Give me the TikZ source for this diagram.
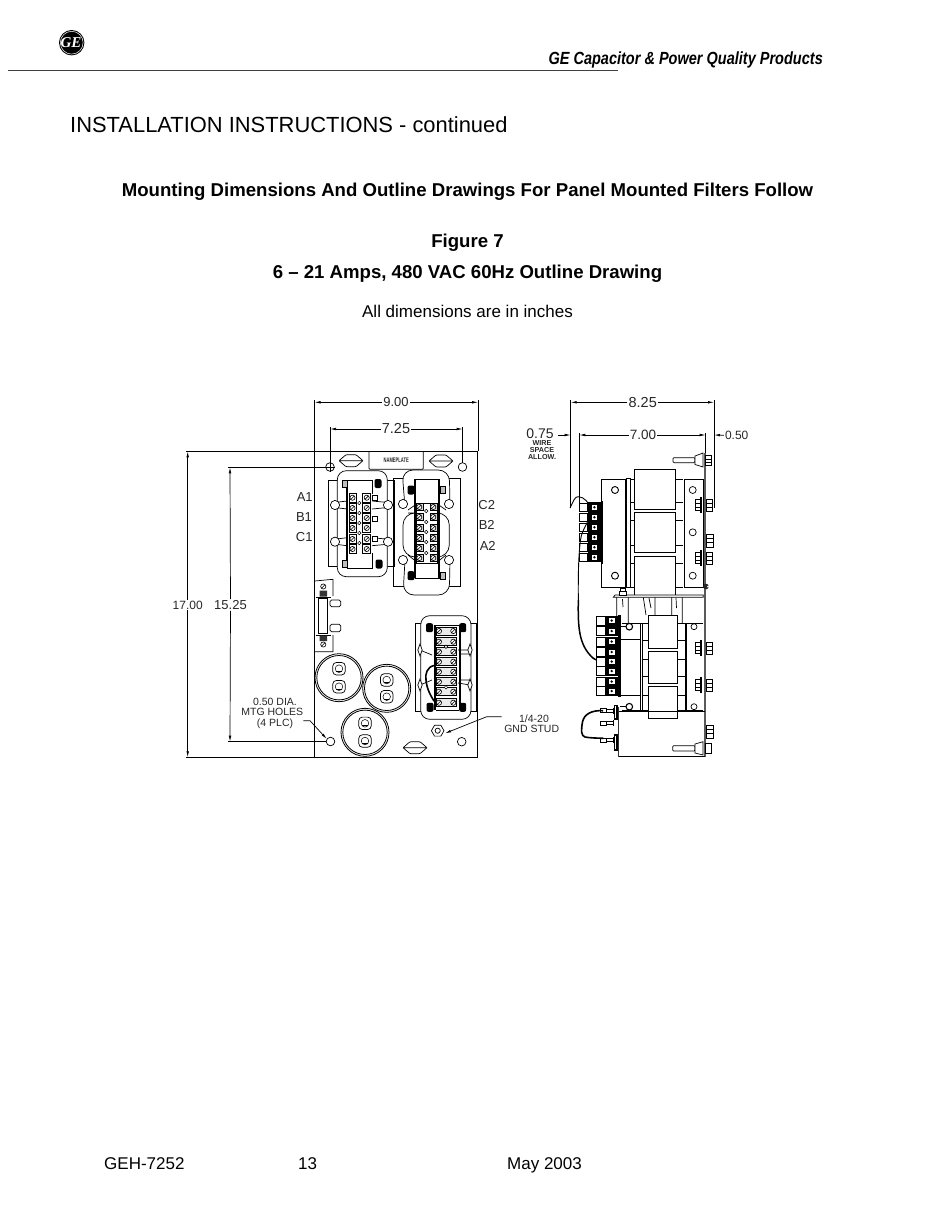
\documentclass[tikz,border=0pt]{standalone}
\usepackage{fontspec}
\setmainfont{Liberation Sans}
\newfontfamily\logofont{Liberation Serif}
\usetikzlibrary{arrows.meta}
\tikzset{
  ln/.style={line width=0.7pt,black},
  thin ln/.style={line width=0.5pt,black},
  heavy/.style={line width=1.5pt,black},
  dimline/.style={line width=0.7pt,black,-{Latex[length=6pt,width=2.6pt]}},
  dimtxt/.style={font=\fontsize{13}{13}\selectfont,inner sep=1pt,text=black!85},
  smalltxt/.style={font=\fontsize{10.5}{10.5}\selectfont,inner sep=0pt,text=black!85},
  tinytxt/.style={font=\bfseries\fontsize{6.6}{7}\selectfont,inner sep=0pt,text=black!85},
  page/.style={inner sep=0pt,text=black}
}
\newcommand\myscrew[2]{\draw[line width=.6pt,fill=white,shift={(#1,#2)}] (0,0) circle (2.6) (-1.7,1.7)--(1.7,-1.7);}
\newcommand\mydot[2]{\draw[thin ln,fill=white] (#1,#2) circle (1.7);}
\newcommand\myknock[2]{\draw[ln,fill=white] (#1,#2) circle (4.6);}
\newcommand\mylens[2]{\draw[ln,fill=white,rounded corners=1pt,shift={(#1,#2)}] (-12,0)--(-5,-6)--(5,-6)--(12,0)--(5,6)--(-5,6)--cycle (-12,0)--(12,0);}
\newcommand\myhole[2]{\draw[ln,fill=white] (#1,#2) circle (4.3);}
\newcommand\myblob[2]{\fill[black,rounded corners=2pt,shift={(#1,#2)}] (-3.5,-4.5) rectangle (3.5,4.5);}
\newcommand\myhatch[2]{\draw[ln,fill=black!25,shift={(#1,#2)}] (-2.6,-3.4) rectangle (2.6,3.4);}
\newcommand\mycap[4]{% cx cy t1y t2y
  \draw[line width=.8pt] (#1,#2) circle (24) circle (22.2);
  \foreach \ty in {#3,#4}{\draw[ln,rounded corners=3.5pt] (#1-6.2,\ty-6.2) rectangle (#1+6.2,\ty+6.2);\draw[thin ln] (#1,\ty) circle (3.8);\draw[thin ln] (#1-2.6,\ty+2.4)--(#1+2.6,\ty+2.4);}
}
\newcommand\mynut[2]{% side view washer + two nuts on the panel
  \draw[ln,fill=white,shift={(#1,#2)}] (-10,-5.5) rectangle (-5,5.5) (-10,-2) -- (-5,-2) (-10,2)--(-5,2);
  \fill[black,shift={(#1,#2)}] (-5,-8) rectangle (-2.8,8);
  \draw[ln,fill=white,shift={(#1,#2)}] (1,-6) rectangle (7,6) (1,-2)--(7,-2) (1,2)--(7,2);
}
\newcommand\mytermrow[2]{% x of block left, y centre
  \draw[thin ln,fill=white] (#1-8.5,#2-4.4) rectangle (#1,#2+4.4);
  \fill[black] (#1,#2-5) rectangle (#1+13,#2+5);
  \draw[thin ln,fill=white] (#1+3.5,#2-2.8) rectangle (#1+10,#2+2.8);
  \fill[black] (#1+6.7,#2) circle (1.3);
}
\begin{document}
\begin{tikzpicture}[x=1pt,y=-1pt]
\useasboundingbox (0,0) rectangle (950,1229);
% ---------- page furniture
\fill[black] (71.7,42.7) circle (12.7);
\draw[white,line width=.5pt] (71.7,42.7) circle (11.4);
\node[page,text=white] (logo) at (71,42.7) {\logofont\itshape\bfseries\fontsize{15}{15}\selectfont GE};
\draw[line width=.8pt,black!75] (8,70)--(618,70);
\node[page,anchor=base east,xscale=.825,font=\bfseries\itshape\fontsize{17.6}{18}\selectfont] (hdr) at (823,64.5) {GE Capacitor \& Power Quality Products};
\node[page,anchor=base west,font=\fontsize{21.9}{22}\selectfont] (inst) at (70,132) {INSTALLATION INSTRUCTIONS - continued};
\node[page,anchor=base,font=\bfseries\fontsize{18.6}{19}\selectfont] (t1) at (467.5,196.5) {Mounting Dimensions And Outline Drawings For Panel Mounted Filters Follow};
\node[page,anchor=base,font=\bfseries\fontsize{18.6}{19}\selectfont] (t2) at (467.5,247) {Figure 7};
\node[page,anchor=base,font=\bfseries\fontsize{18.6}{19}\selectfont] (t3) at (467.5,278) {6 – 21 Amps, 480 VAC 60Hz Outline Drawing};
\node[page,anchor=base,font=\fontsize{17}{18}\selectfont] (t4) at (467.5,317) {All dimensions are in inches};
\node[page,anchor=base west,font=\fontsize{17}{18}\selectfont] (f1) at (104,1169.5) {GEH-7252};
\node[page,anchor=base west,font=\fontsize{17}{18}\selectfont] (f2) at (298,1169.5) {13};
\node[page,anchor=base west,font=\fontsize{17}{18}\selectfont] (f3) at (507,1169.5) {May 2003};

% ---------- FRONT VIEW: plate
\draw[ln] (314.5,451.3) rectangle (477.7,757.3);
\mylens{351}{460.7}\mylens{441}{461}\mylens{415}{747.7}
\draw[ln,rounded corners=1pt] (369,451.3)--(369,469.3)--(423.3,469.3)--(423.3,451.3);
\node[tinytxt,xscale=.62] (nameplate) at (396.2,460.5) {NAMEPLATE};
\myhole{330}{467}\draw[thin ln] (325.2,467)--(334.8,467) (330,462.2)--(330,471.8);
\myhole{462.5}{467}\myhole{330.5}{741.5}\myhole{461.7}{741.7}

% ---------- left filter (A1 B1 C1)
\draw[ln] (328.7,480) rectangle (394,566.7);
\draw[ln,fill=white,rounded corners=9pt] (337.3,470.7) rectangle (387.3,576.7);
\foreach \y in {505,541.7}{
  \draw[ln] (335,\y-2.5)--(347,\y-4) (335,\y+2.5)--(347,\y+4) (388,\y-2.5)--(372,\y-4) (388,\y+2.5)--(372,\y+4);
  \myknock{335}{\y}\myknock{388}{\y}}
\draw[ln,fill=white] (347,480) -- (373,480) (347,568) -- (373,568);
\fill[black] (345.6,480) rectangle (347.8,568);
\draw[line width=1.1pt] (372.4,480)--(372.4,494) (372.4,553)--(372.4,568);
\foreach \y in {497.7,508,518,528,539,549}{\draw[thin ln] (349.5,\y-4.3) rectangle (356.5,\y+4.3);\draw[thin ln] (362.5,\y-4.3) rectangle (370.5,\y+4.3);\myscrew{352.5}{\y}\myscrew{366.7}{\y}}
\foreach \y in {503,513,523,533,543}{\mydot{359.3}{\y}}
\foreach \y in {498,519,538.5}{\draw[ln,fill=white] (372,\y-2.5) rectangle (377.5,\y+2.5);}
\myhatch{344.5}{484}\myhatch{345}{564}\myblob{378}{483.5}\myblob{379}{564}

% ---------- right filter (C2 B2 A2)
\draw[ln] (393.7,478) rectangle (460,586.7);
\draw[ln,fill=white,rounded corners=11pt] (405,507)--(402,470)--(449.3,470)--(450,507);
\draw[ln,fill=white,rounded corners=11pt] (405,560)--(403,595)--(449.3,595)--(450,560);
\draw[ln,rounded corners=12pt] (408,513)--(403,513)--(403,557)--(449.3,557)--(449.3,513)--(440,513);
\draw[ln] (408,510)--(418,503) (446,510)--(436,503) (408,555)--(418,563) (446,555)--(436,563);
\foreach \p in {(403,504),(449,504),(403,560),(449,560)}{\draw[ln,fill=white] \p circle (4.6);}
\draw[ln,fill=white] (415,479) rectangle (439.3,578);
\fill[black] (414,479) rectangle (416.2,578);
\fill[black] (438,479) rectangle (440.2,578);
\draw[ln] (416.5,503) rectangle (437,563);
\foreach \y in {507,517,528,538,548,558}{\draw[thin ln,fill=black!15] (416.5,\y-3.6) rectangle (423,\y+3.6);\draw[thin ln,fill=black!15] (430,\y-3.6) rectangle (437,\y+3.6);\myscrew{419.3}{\y}\myscrew{433.3}{\y}}
\foreach \y in {511,522,532,542,553}{\mydot{426.2}{\y}}
\myblob{411}{490}\myblob{411}{575.7}\myhatch{442.7}{490}\myhatch{442.7}{575.7}

% ---------- bottom-right filter
\draw[ln] (415,623) rectangle (476.7,711.7);
\draw[ln,fill=white,rounded corners=9pt] (420.7,615.7) rectangle (471,719.3);
\draw[ln] (420,650)--(432,655) (470,650)--(458,650) (420,685)--(432,680) (470,685)--(458,683) (460,654)--(471,654) (460,680)--(471,680);
\foreach \x in {420,470}\foreach \y in {650,685}{\draw[ln,fill=white] (\x-2.2,\y)--(\x,\y-6)--(\x+2.2,\y)--(\x,\y+6)--cycle;}
\fill[black] (434.3,625) rectangle (436,710);
\fill[black] (459,625) rectangle (461,710);
\draw[ln] (436,625)--(459,625) (436,710)--(459,710);
\foreach \y in {631,641.7,651.7,661.7,671.7,681.7,691.7,702.7}{\draw[thin ln,fill=black!8] (436.5,\y-4) rectangle (456.5,\y+4);\myscrew{439}{\y}\myscrew{453.3}{\y}}
\mydot{446}{646.7}\mydot{446}{687.3}
\myblob{429.5}{627.7}\myblob{462.7}{627.7}\myblob{430}{707.3}\myblob{462.7}{707.3}
\draw[line width=1.6pt,line cap=round] (434,665.5) .. controls (427,667) and (425,674) .. (426,680) .. controls (427,690) and (431,696) .. (434,701);

% ---------- suppressor component at plate left
\draw[ln] (314.7,581) -- (333,579.3) -- (333,596) (314.7,651.7)--(333,651.7)--(333,635);
\draw[ln,fill=white] (318.3,598.3) rectangle (327.7,633.3);
\draw[line width=1pt] (318.3,598.3)--(318.3,633.3) (327.7,598.3)--(327.7,633.3) (315.5,597)--(331,597) (315.5,635)--(331,635);
\draw[ln,fill=white,rounded corners=1.5pt] (330,600) rectangle (340.7,606.7) (330,624.3) rectangle (340.7,631.7);
\myscrew{323.3}{586.5}\myscrew{323.3}{644.5}
\fill[black!80] (319.5,590.5) rectangle (327,596.5) (319.5,635.5) rectangle (327,641);

% ---------- capacitors
\mycap{339}{677.7}{668.7}{686.7}
\mycap{386.7}{688.3}{680}{696.7}
\mycap{365}{732.3}{723.3}{741}

% ---------- gnd stud
\draw[ln,fill=white,shift={(437.7,730.7)}] (-6.3,0)--(-3.2,-5.4)--(3.2,-5.4)--(6.3,0)--(3.2,5.4)--(-3.2,5.4)--cycle (0,0) circle (2.6);
\coordinate (studtip) at (445,733.3);
\node[smalltxt] (stud1) at (534,718.3) {1/4-20};
\node[smalltxt] (stud2) at (531.7,728.5) {GND STUD};
\coordinate (studkn) at (486.7,716.7);
\coordinate (studend) at (501.7,716.7);
\draw[dimline] (studend)--(studkn)--(studtip);

% ---------- front view labels
\node[dimtxt] (a1) at (304.7,496.7) {A1};
\node[dimtxt] (b1) at (304,516.7) {B1};
\node[dimtxt] (c1) at (304.3,537.3) {C1};
\node[dimtxt] (c2) at (486.7,505) {C2};
\node[dimtxt] (b2) at (486.7,525) {B2};
\node[dimtxt] (a2) at (487.7,545.7) {A2};
\node[smalltxt] (h1) at (275,702.3) {0.50 DIA.};
\node[smalltxt] (h2) at (272.3,712.3) {MTG HOLES};
\node[smalltxt] (h3) at (275,724) {(4 PLC)};
\coordinate (hs) at (303.3,720.7);\coordinate (hk) at (310,720.7);\coordinate (ht) at (326.8,739);
\draw[dimline] (hs)--(hk)--(ht);

% ---------- front view dimensions
\coordinate (p900l) at (314.5,402.3);\coordinate (p900r) at (478.2,402.3);
\node[dimtxt] (d900) at (396,402.3) {9.00};
\draw[dimline] (d900)--(p900l);\draw[dimline] (d900)--(p900r);
\draw[ln] (314.5,400)--(314.5,451.3) (478.2,400)--(478.2,451.3);
\coordinate (p725l) at (330,429);\coordinate (p725r) at (462.7,429);
\node[dimtxt,font=\fontsize{14.5}{14}\selectfont] (d725) at (396,429) {7.25};
\draw[dimline] (d725)--(p725l);\draw[dimline] (d725)--(p725r);
\draw[ln] (330,427)--(330,462.7) (462.7,427)--(462.7,462.7);
\coordinate (p17t) at (187.7,451.3);\coordinate (p17b) at (187.7,757.3);
\node[dimtxt,font=\fontsize{12}{12}\selectfont] (d17) at (187.7,605) {17.00};
\draw[dimline] (d17)--(p17t);\draw[dimline] (d17)--(p17b);
\draw[ln] (186,451.3)--(314.5,451.3) (186,757.3)--(314.5,757.3);
\coordinate (p15t) at (230,467.3);\coordinate (p15b) at (230,741.7);
\node[dimtxt,font=\fontsize{13}{12}\selectfont] (d15) at (230.5,605) {15.25};
\draw[dimline] (d15)--(p15t);\draw[dimline] (d15)--(p15b);
\draw[ln] (228,467.3)--(325.7,467.3) (228,741.7)--(326.2,741.7);

% ---------- SIDE VIEW: upper filter
\draw[line width=2pt,black!65] (704.5,453)--(704.5,757);
\draw[ln,rounded corners=1pt] (673,457.7) rectangle (695,462.7);
\draw[ln,fill=white] (695,456)--(703,453)--(703,467)--(695,464.5)--cycle;
\draw[ln,fill=white] (705.7,455.7) rectangle (711,465) (705.7,459)--(711,459) (705.7,462)--(711,462);
\draw[ln] (601.7,479) rectangle (625,587.3);
\draw[ln] (626,478) rectangle (630,587.3);
\draw[ln] (630,479)--(634.3,479) (630,502)--(634.3,502) (630,520)--(634.3,520) (630,545)--(634.3,545) (630,563)--(634.3,563) (630,587)--(634.3,587);
\draw[ln] (675.7,479)--(683.3,479) (675.7,502)--(683.3,502) (675.7,520)--(683.3,520) (675.7,545)--(683.3,545) (675.7,563)--(683.3,563) (675.7,587)--(683.3,587);
\draw[ln] (684,479) rectangle (703.5,587.3);
\foreach \a/\b in {469.3/509,512.7/552.3,556/595.7}{\draw[ln,fill=white] (634.3,\a) rectangle (675.7,\b);}
\draw[line width=.9pt] (615,490) circle (3.5) (615,575.7) circle (3.5);
\draw[ln] (692.7,490) circle (3.5) (692.7,532.3) circle (3.5) (692.7,575.7) circle (3.5);
\foreach \y in {507.3,517.3,527.3,537.3,547.3,557.3}{\mytermrow{587.7}{\y}}
\fill[black] (600.7,501) rectangle (602.7,564);
\mynut{705}{505}\mynut{705}{558.3}
\draw[ln,fill=white] (706.5,534) rectangle (713,547) (706.5,538)--(713,538) (706.5,542.5)--(713,542.5);
\fill[black!85] (706,586.5) circle (2.8);\fill[white] (708,586.5) circle (1);

% ---------- wire of the side view
\coordinate (w0) at (570,508);
\coordinate (w1) at (603.3,662.3);
\draw[line width=.9pt] (w0) .. controls (573,502) and (575,496) .. (578.3,496.7) .. controls (584,497) and (590,502) .. (590,512) .. controls (590,522) and (582,528) .. (580.5,540) .. controls (578,560) and (578.3,580) .. (578.3,600);
\draw[line width=1.5pt] (578.3,600) .. controls (578,625) and (578,645) .. (593.3,658.3) .. controls (597,660.5) and (600,661.5) .. (w1);

% ---------- SIDE VIEW: lower filter
\draw[ln,fill=white] (613.3,597.3)--(615,595)--(703.3,595)--(703.3,597.3)--cycle;
\draw[ln,fill=white] (619.5,591) rectangle (626,595) (620.5,588) rectangle (625,591);
\draw[ln] (616.7,597.3)--(616.7,623.3) (628.3,597.3)--(628.3,623.3) (622.5,599)--(623,607);
\draw[ln] (643.3,597.3)--(646,615) (655,597.3)--(655,615) (649,598)--(651,608);
\draw[ln] (671.7,597.3)--(671.7,615) (682.3,597.3)--(682.3,623.3) (676,598)--(676.5,608);
\draw[ln] (621.7,623.3)--(703.3,623.3) (621.7,710)--(703.3,710);
\draw[ln] (620,639.3) rectangle (640,695);
\draw[line width=1pt] (640,623.3)--(640,710);
\draw[ln] (642,623.3) -- (642,710) (642,640)--(648.3,640) (642,659)--(648.3,659) (642,676)--(648.3,676) (642,695)--(648.3,695);
\draw[ln] (677.3,640)--(685,640) (677.3,659)--(685,659) (677.3,676)--(685,676) (677.3,695)--(685,695);
\draw[ln] (685,623.3)--(685,710) (686.7,623.3)--(686.7,710);
\foreach \a/\b in {615/648.3,651/683.3,686/718.3}{\draw[ln,fill=white] (648.3,\a) rectangle (677.3,\b);}
\draw[line width=1.1pt,fill=white] (629.3,626.7) circle (3.3) (629.3,706.7) circle (3.3);
\draw[ln] (694,626.7) circle (3) (694,706.7) circle (3);
\draw[ln] (620,626.7)--(626,626.7) (620,706.7)--(626,706.7);
\foreach \y in {620.5,631,641.5,652,661.5,671,681.5,691}{\mytermrow{605}{\y}}
\fill[black] (618,615) rectangle (620.5,697);
\mynut{705}{648.3}\mynut{705}{685}
% chassis
\draw[ln] (618.3,711.7)--(705,711.7) (618.3,756.7)--(705,756.7);
\draw[line width=1.4pt,black!80] (618.3,706.7)--(618.3,756.7);
\draw[ln,fill=white] (706.5,725) rectangle (713.5,738) (706.5,729.5)--(713.5,729.5) (706.5,733.5)--(713.5,733.5);
\draw[ln,rounded corners=1pt] (672.7,745.7) rectangle (695,751);
\draw[ln,fill=white] (695,744)--(703,741.7)--(703,755)--(695,753)--cycle;
\draw[ln,fill=white] (705.5,743.5) rectangle (711,753);
% lugs
\foreach \y in {710.7,723.3,740}{\draw[ln,fill=white] (600,\y-2) rectangle (606,\y+2) (606,\y-1.5) rectangle (613,\y+1.5);\draw[ln] (613,\y-3)--(613,\y+3);}
\draw[line width=1.2pt] (614.5,705.5) rectangle (617,719) (614.5,735) rectangle (617,750);
\coordinate (j0) at (603,710.7);\coordinate (j1) at (603.3,738.3);
\draw[line width=1.6pt] (j0) .. controls (592,710) and (584,714) .. (582.5,722) .. controls (581,730) and (581,736) .. (585,737) .. controls (590,738) and (596,738) .. (j1);

% ---------- side view dimensions
\coordinate (p825l) at (570.7,402.3);\coordinate (p825r) at (714,402.3);
\node[dimtxt,font=\fontsize{14.5}{14}\selectfont] (d825) at (642.7,402.3) {8.25};
\draw[dimline] (d825)--(p825l);\draw[dimline] (d825)--(p825r);
\draw[ln] (570.7,400)--(570.7,508) (714,400)--(714,508);
\coordinate (p700l) at (579.3,435);\coordinate (p700r) at (705.7,435);
\node[dimtxt,font=\fontsize{13.5}{14}\selectfont] (d700) at (643,435) {7.00};
\draw[dimline] (d700)--(p700l);\draw[dimline] (d700)--(p700r);
\draw[ln] (579.3,433)--(579.3,505) (705.7,433)--(705.7,453);
\node[dimtxt,font=\fontsize{14}{14}\selectfont] (d075) at (540,433.3) {0.75};
\node[tinytxt,font=\bfseries\fontsize{7.2}{7.2}\selectfont] (w1t) at (542,442.7) {WIRE};
\node[tinytxt,font=\bfseries\fontsize{7.2}{7.2}\selectfont] (w2t) at (542,450) {SPACE};
\node[tinytxt,font=\bfseries\fontsize{7.2}{7.2}\selectfont] (w3t) at (542,457) {ALLOW.};
\coordinate (p075s) at (558.3,435);\coordinate (p075e) at (570.7,435);
\draw[dimline] (p075s)--(p075e);
\node[dimtxt,font=\fontsize{12}{12}\selectfont] (d050) at (736.7,435.5) {0.50};
\coordinate (p050e) at (714,435);
\draw[dimline] (d050)--(p050e);
\end{tikzpicture}
\end{document}
